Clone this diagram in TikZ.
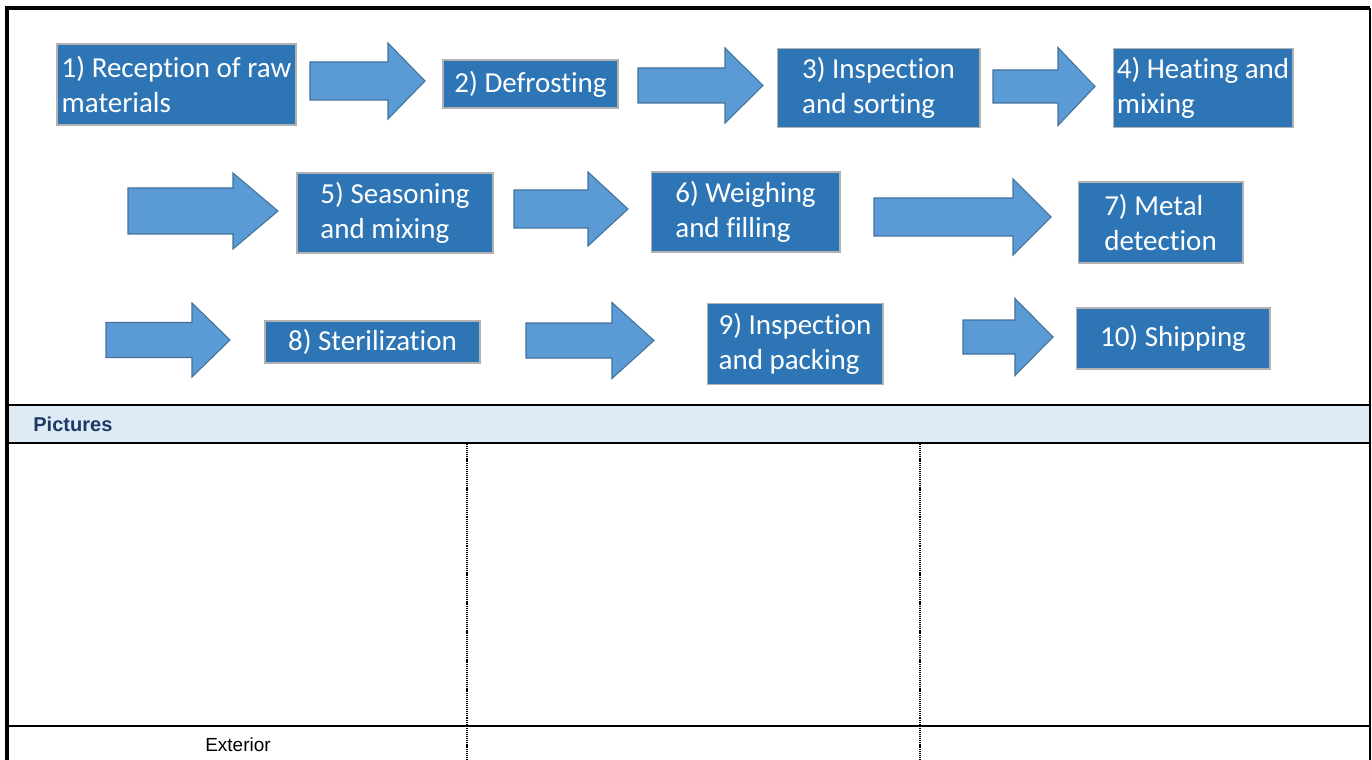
\documentclass[tikz,border=0pt]{standalone}
\usepackage{fontspec}
\setmainfont{Carlito}[Ligatures=NoCommon]
\newfontfamily\arialfont{Liberation Sans}
\usepackage{xcolor}
\usepackage{tikz}
\usetikzlibrary{calc}
\definecolor{boxblue}{HTML}{2E75B6}
\definecolor{arrowblue}{HTML}{5B9BD5}
\definecolor{arrowedge}{HTML}{41719C}
\definecolor{bandblue}{HTML}{DDEBF7}
\definecolor{navy}{HTML}{1F3864}
\tikzset{
  stepbox/.style={rectangle, fill=boxblue, draw=black!30, line width=0.6pt, text=white,
    font=\fontsize{16.5}{20}\selectfont, align=left, inner sep=2pt},
  flowarrow/.style={fill=arrowblue, draw=arrowedge, line width=0.6pt, line join=miter},
  thickline/.style={draw=black, line width=2.3pt},
  midline/.style={draw=black, line width=1.3pt},
  thinline/.style={draw=black, line width=0.7pt},
  dotline/.style={draw=black, line width=1.3pt, dash pattern=on 0.6pt off 0.5pt},
  lab/.style={font=\arialfont\fontsize{10.8}{12}\selectfont, inner sep=0pt},
}
% #1 tail x, #2 head base x, #3 tip x, #4 centre y, #5 half shaft, #6 half head
\newcommand{\blockarrow}[6]{%
  \draw[flowarrow] (#1,{#4-#5}) -- (#2,{#4-#5}) -- (#2,{#4-#6}) -- (#3,#4)
    -- (#2,{#4+#6}) -- (#2,{#4+#5}) -- (#1,{#4+#5}) -- cycle;}

\begin{document}
\begin{tikzpicture}[x=0.02cm,y=-0.02cm]
  \useasboundingbox (0,0) rectangle (1372,760);

  % pictures band
  \fill[bandblue] (6,405) rectangle (1370,443);

  % frame
  \draw[thickline] (5,8) -- (1370,8);
  \draw[thickline] (7,7) -- (7,760);
  \draw[thinline] (1370,8) -- (1370,760);
  \draw[midline] (6,405) -- (1370,405);
  \draw[midline] (6,443) -- (1370,443);
  \draw[thinline] (6,726) -- (1370,726);
  \draw[dotline] (467,444) -- (467,760);
  \draw[dotline] (920,444) -- (920,760);

  % process steps
  \node[stepbox, minimum width=4.78cm, minimum height=1.62cm] (s1) at (176.5,84.5)
    {1) Reception of raw\\materials\phantom{ of raw}};
  \node[stepbox, minimum width=3.5cm, minimum height=0.96cm] (s2) at (530.5,84) {2) Defrosting};
  \node[stepbox, minimum width=4.06cm, minimum height=1.58cm] (s3) at (878.5,88) {3) Inspection\\and sorting};
  \node[stepbox, minimum width=3.6cm, minimum height=1.58cm] (s4) at (1203,88) {4) Heating and\\mixing\phantom{ing and}};
  \node[stepbox, minimum width=3.92cm, minimum height=1.6cm] (s5) at (395,213) {5) Seasoning\\and mixing};
  \node[stepbox, minimum width=3.78cm, minimum height=1.6cm] (s6) at (745.5,212) {6) Weighing\\and filling};
  \node[stepbox, minimum width=3.3cm, minimum height=1.62cm] (s7) at (1160.5,222.5) {7) Metal\\detection};
  \node[stepbox, minimum width=4.3cm, minimum height=0.84cm] (s8) at (372.5,342) {8) Sterilization};
  \node[stepbox, minimum width=3.52cm, minimum height=1.62cm] (s9) at (795,344) {9) Inspection\\and packing};
  \node[stepbox, minimum width=3.88cm, minimum height=1.22cm] (s10) at (1173,338.5) {10) Shipping};

  % arrows
  \blockarrow{310}{388}{425}{81}{19}{38}
  \blockarrow{638}{725}{763}{85.5}{17.5}{37.5}
  \blockarrow{993}{1058}{1095}{86.5}{16.5}{39}
  \blockarrow{128}{233}{278}{211}{23}{38}
  \blockarrow{514}{588}{628}{209}{19}{37}
  \blockarrow{874}{1013}{1051}{217}{19}{38}
  \blockarrow{106}{192}{230}{340}{17.5}{37}
  \blockarrow{526}{612}{654}{340.5}{17.5}{38}
  \blockarrow{963}{1015}{1053}{337}{17}{38.5}

  % labels
  \node[lab, anchor=west, text=navy, font=\arialfont\bfseries\fontsize{11.4}{13}\selectfont] (pics) at (33,424) {Pictures};
  \node[lab] (ext) at (238,745) {Exterior};
\end{tikzpicture}
\end{document}
